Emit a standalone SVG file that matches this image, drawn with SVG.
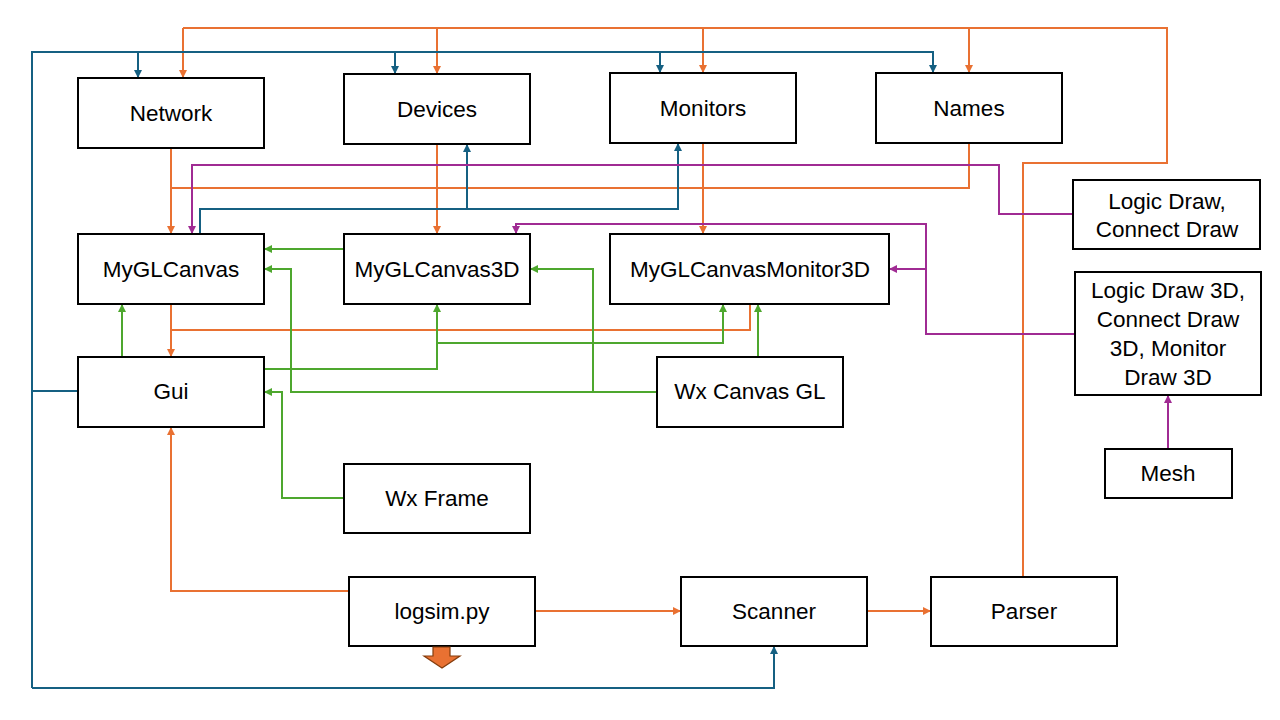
<svg xmlns="http://www.w3.org/2000/svg" width="1280" height="720" viewBox="0 0 1280 720">
<style>
.box{fill:#fff;stroke:#000;stroke-width:2}
.t{font-family:"Liberation Sans",Arial,sans-serif;font-size:22.5px;fill:#000;text-anchor:middle;dominant-baseline:central}
.c{fill:none;stroke-width:2;stroke-linejoin:miter}
.o{stroke:#E97132}
.b{stroke:#156082}
.p{stroke:#A02B93}
.g{stroke:#4EA72E}
.o.a{marker-end:url(#mo)}
.b.a{marker-end:url(#mb)}
.p.a{marker-end:url(#mp)}
.g.a{marker-end:url(#mg)}
</style>
<defs>
<marker id="mo" markerUnits="userSpaceOnUse" markerWidth="8" markerHeight="8" refX="8" refY="4" orient="auto"><path d="M0,0 L8,4 L0,8 z" fill="#E97132"/></marker>
<marker id="mb" markerUnits="userSpaceOnUse" markerWidth="8" markerHeight="8" refX="8" refY="4" orient="auto"><path d="M0,0 L8,4 L0,8 z" fill="#156082"/></marker>
<marker id="mp" markerUnits="userSpaceOnUse" markerWidth="8" markerHeight="8" refX="8" refY="4" orient="auto"><path d="M0,0 L8,4 L0,8 z" fill="#A02B93"/></marker>
<marker id="mg" markerUnits="userSpaceOnUse" markerWidth="8" markerHeight="8" refX="8" refY="4" orient="auto"><path d="M0,0 L8,4 L0,8 z" fill="#4EA72E"/></marker>
</defs>
<rect width="1280" height="720" fill="#fff"/>
<g id="connectors">
<path class="c o" d="M1023,577 V163 H1167 V28 H183"/>
<path class="c o a" d="M183,28 V78"/>
<path class="c o a" d="M437,28 V74"/>
<path class="c o a" d="M703,28 V73"/>
<path class="c o a" d="M969,28 V73"/>
<path class="c o a" d="M171,148 V234"/>
<path class="c o" d="M969,143 V188 H171"/>
<path class="c o a" d="M437,144 V234"/>
<path class="c o a" d="M703,143 V234"/>
<path class="c o a" d="M171,304 V357"/>
<path class="c o" d="M750,304 V330 H171"/>
<path class="c o a" d="M349,591 H171 V427"/>
<path class="c o a" d="M535,611 H681"/>
<path class="c o a" d="M867,611 H931"/>
<path class="c b a" d="M32,688 V52 H933 V73"/>
<path class="c b a" d="M32,688 H774 V646"/>
<path class="c b a" d="M138,52 V78"/>
<path class="c b a" d="M395,52 V74"/>
<path class="c b a" d="M660,52 V73"/>
<path class="c b" d="M78,391 H32"/>
<path class="c b a" d="M200,234 V209 H678 V143"/>
<path class="c b a" d="M467,209 V144"/>
<path class="c p a" d="M1073,214 H999 V165 H192 V234"/>
<path class="c p a" d="M1075,334 H926 V224 H516 V234"/>
<path class="c p a" d="M926,269 H889"/>
<path class="c p a" d="M1168,449 V395"/>
<path class="c g a" d="M344,249 H264"/>
<path class="c g a" d="M122,357 V304"/>
<path class="c g a" d="M264,369 H437 V304"/>
<path class="c g a" d="M437,343 H723 V304"/>
<path class="c g a" d="M657,392 H291 V269 H264"/>
<path class="c g a" d="M593,392 V269 H530"/>
<path class="c g a" d="M758,357 V304"/>
<path class="c g a" d="M344,498 H282 V392 H264"/>
</g>
<g id="network"><rect class="box" x="78" y="78" width="186" height="70"/><text class="t" x="171" y="113">Network</text></g>
<g id="devices"><rect class="box" x="344" y="74" width="186" height="70"/><text class="t" x="437" y="109">Devices</text></g>
<g id="monitors"><rect class="box" x="610" y="73" width="186" height="70"/><text class="t" x="703" y="108">Monitors</text></g>
<g id="names"><rect class="box" x="876" y="73" width="186" height="70"/><text class="t" x="969" y="108">Names</text></g>
<g id="logicdraw"><rect class="box" x="1073" y="180" width="187" height="69"/><text class="t" x="1167" y="201">Logic Draw,</text><text class="t" x="1167" y="229">Connect Draw</text></g>
<g id="myglcanvas"><rect class="box" x="78" y="234" width="186" height="70"/><text class="t" x="171" y="269">MyGLCanvas</text></g>
<g id="myglcanvas3d"><rect class="box" x="344" y="234" width="186" height="70"/><text class="t" x="437" y="269">MyGLCanvas3D</text></g>
<g id="myglcanvasmonitor3d"><rect class="box" x="610" y="234" width="279" height="70"/><text class="t" x="750" y="269">MyGLCanvasMonitor3D</text></g>
<g id="logicdraw3d"><rect class="box" x="1075" y="272" width="186" height="123"/><text class="t" x="1168" y="290">Logic Draw 3D,</text><text class="t" x="1168" y="319">Connect Draw</text><text class="t" x="1168" y="348">3D, Monitor</text><text class="t" x="1168" y="377">Draw 3D</text></g>
<g id="gui"><rect class="box" x="78" y="357" width="186" height="70"/><text class="t" x="171" y="391">Gui</text></g>
<g id="wxcanvasgl"><rect class="box" x="657" y="357" width="186" height="70"/><text class="t" x="750" y="391">Wx Canvas GL</text></g>
<g id="wxframe"><rect class="box" x="344" y="464" width="186" height="69"/><text class="t" x="437" y="498">Wx Frame</text></g>
<g id="mesh"><rect class="box" x="1105" y="449" width="127" height="49"/><text class="t" x="1168" y="473">Mesh</text></g>
<g id="logsim"><rect class="box" x="349" y="577" width="186" height="69"/><text class="t" x="442" y="611">logsim.py</text></g>
<g id="scanner"><rect class="box" x="681" y="577" width="186" height="69"/><text class="t" x="774" y="611">Scanner</text></g>
<g id="parser"><rect class="box" x="931" y="577" width="186" height="69"/><text class="t" x="1024" y="611">Parser</text></g>
<g id="blockarrow"><polygon points="433,647 450,647 450,656 460,656 442,668 424,656 433,656" fill="#E97132" stroke="#843C0C" stroke-width="1.2"/></g>
</svg>
